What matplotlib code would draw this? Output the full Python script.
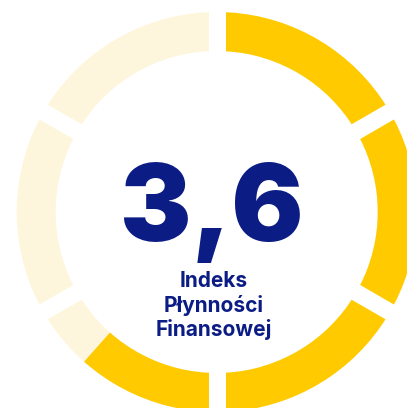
import numpy as np
import matplotlib
matplotlib.use("Agg")
import matplotlib.pyplot as plt
from matplotlib.patches import Wedge

# Gauge data
score = 3.6
score_label = "3,6"
scale_max = 5.85
n_segments = 6
caption_lines = ["Indeks", "Płynności", "Finansowej"]

YELLOW = "#FFCA00"
PALE = "#FEF6DC"
NAVY = "#0B1C85"

W, H = 407, 408
fig = plt.figure(figsize=(W / 100, H / 100), dpi=100)
ax = fig.add_axes([0, 0, 1, 1])
ax.set_xlim(0, W)
ax.set_ylim(0, H)
ax.set_aspect("equal")
ax.axis("off")

cx, cy = 216.7, H - 212
r_out, ring_w = 200, 39

# background ring, then the filled part clockwise from the top
ax.add_patch(Wedge((cx, cy), r_out, 0, 360, width=ring_w, facecolor=PALE, edgecolor="none"))
fill_deg = 360 * score / scale_max
ax.add_patch(Wedge((cx, cy), r_out, 90 - fill_deg, 90, width=ring_w, facecolor=YELLOW, edgecolor="none"))

# straight gaps between segments
gap_px = 17
for k in range(n_segments):
    a = np.deg2rad(90 - k * 360 / n_segments)
    r0, r1 = r_out - ring_w - 5, r_out + 5
    ax.plot([cx + r0 * np.cos(a), cx + r1 * np.cos(a)],
            [cy + r0 * np.sin(a), cy + r1 * np.sin(a)],
            color="white", lw=gap_px * 72 / 100, solid_capstyle="butt")

ax.text(212, H - 241, score_label, ha="center", va="baseline", color=NAVY,
        fontsize=77, fontweight=900, family=["Inter", "DejaVu Sans"])

for i, line in enumerate(caption_lines):
    ax.text(214, H - (287 + 24.5 * i), line, ha="center", va="baseline", color=NAVY,
            fontsize=15, fontweight="bold", family=["Inter", "DejaVu Sans"])

fig.savefig("out.png", dpi=100)
